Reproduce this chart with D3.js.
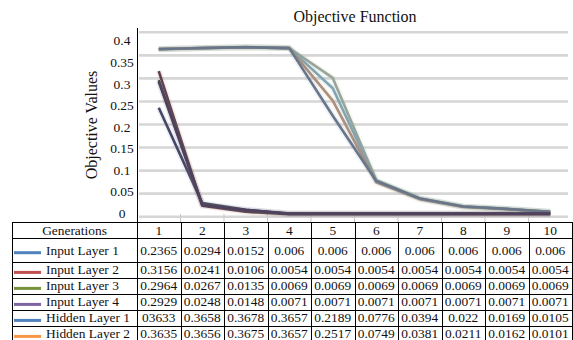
<!DOCTYPE html>
<html>
<head>
<meta charset="utf-8">
<script src="https://cdn.jsdelivr.net/npm/d3@7"></script>
<style>
  html, body { margin: 0; padding: 0; background: #fff; }
</style>
</head>
<body>
<div id="chart"></div>
<script>
// chart values
const generations = [1, 2, 3, 4, 5, 6, 7, 8, 9, 10];
const seriesNames = ["Input Layer 1", "Input Layer 2", "Input Layer 3", "Input Layer 4",
                     "Hidden Layer 1", "Hidden Layer 2"];
const seriesColors = ["#4f81bd", "#c0504d", "#77933c", "#8064a2", "#4f81bd", "#f79646"];

const inputLayer1 = [0.2365, 0.0294, 0.0152, 0.006, 0.006, 0.006, 0.006, 0.006, 0.006, 0.006];
const inputLayer2 = [0.3156, 0.0241, 0.0106, 0.0054, 0.0054, 0.0054, 0.0054, 0.0054, 0.0054, 0.0054];
const inputLayer3 = [0.2964, 0.0267, 0.0135, 0.0069, 0.0069, 0.0069, 0.0069, 0.0069, 0.0069, 0.0069];
const inputLayer4 = [0.2929, 0.0248, 0.0148, 0.0071, 0.0071, 0.0071, 0.0071, 0.0071, 0.0071, 0.0071];
const hiddenLayer1 = [0.3633, 0.3658, 0.3678, 0.3657, 0.2189, 0.0776, 0.0394, 0.022, 0.0169, 0.0105];
const hiddenLayer2 = [0.3635, 0.3656, 0.3675, 0.3657, 0.2517, 0.0749, 0.0381, 0.0211, 0.0162, 0.0101];

// two more curves whose table rows fall below the picture; estimated from the plot
const extraColors = ["#4bacc6", "#9bbb59"];
const extraCurve1 = [0.3638, 0.3657, 0.3676, 0.3657, 0.2785, 0.0768, 0.0389, 0.0216, 0.0166, 0.0103];
const extraCurve2 = [0.3640, 0.3660, 0.3677, 0.3657, 0.3010, 0.0792, 0.0401, 0.0224, 0.0171, 0.0107];

const seriesValues = [inputLayer1, inputLayer2, inputLayer3, inputLayer4, hiddenLayer1, hiddenLayer2];
// the table prints this one cell without its decimal point
const cellText = { "Hidden Layer 1|1": "03633" };

const yTicks = [0, 0.05, 0.1, 0.15, 0.2, 0.25, 0.3, 0.35, 0.4];

const W = 573, H = 340;
const tableLeft = 12, tableRight = 572, tableTop = 222;
const plotLeft = 137;
const serif = '"Liberation Serif", "Times New Roman", Times, serif';

const svg = d3.select("#chart").append("svg")
  .attr("width", W)
  .attr("height", H)
  .attr("font-family", serif)
  .style("font-family", serif);

svg.append("rect").attr("width", W).attr("height", H).attr("fill", "#fff");

const x = d3.scaleBand().domain(generations).range([plotLeft, tableRight]);
const bw = x.bandwidth();
const cx = g => x(g) + bw / 2;

const y = d3.scaleLinear().domain([0, 0.4]).range([216.7, 32.3]);
// tick labels sit a little off the grid in the original
const yLab = d3.scaleLinear().domain([0, 0.4]).range([213.3, 40.7]);

// grid
svg.append("g")
  .selectAll("line")
  .data(yTicks)
  .enter()
    .append("line")
      .attr("x1", plotLeft + 2).attr("x2", 568)
      .attr("y1", d => y(d)).attr("y2", d => y(d))
      .attr("stroke", "#d6d6d6")
      .attr("stroke-width", 2.6);

// small ticks above the table
svg.append("g")
  .selectAll("line")
  .data(generations.slice(1))
  .enter()
    .append("line")
      .attr("x1", d => x(d)).attr("x2", d => x(d))
      .attr("y1", 214).attr("y2", tableTop)
      .attr("stroke", "#c8c8c8")
      .attr("stroke-width", 1);

// y axis
svg.append("line")
  .attr("x1", plotLeft + 0.5).attr("x2", plotLeft + 0.5)
  .attr("y1", 28).attr("y2", tableTop)
  .attr("stroke", "#000");

svg.append("g")
  .selectAll("text")
  .data(yTicks)
  .enter()
    .append("text")
      .attr("x", 122)
      .attr("y", d => yLab(d))
      .attr("dy", "0.35em")
      .attr("text-anchor", "middle")
      .attr("fill", "#111")
      .style("font-size", "13.5px")
      .text(d => d3.format("")(d));

svg.append("text")
  .attr("transform", "translate(97,125) rotate(-90)")
  .attr("text-anchor", "middle")
  .attr("fill", "#111")
  .style("font-size", "16px")
  .text("Objective Values");

svg.append("text")
  .attr("x", 355).attr("y", 22)
  .attr("text-anchor", "middle")
  .attr("fill", "#111")
  .style("font-size", "16px")
  .text("Objective Function");

// lines
const line = d3.line()
  .x((d, i) => cx(generations[i]))
  .y(d => y(d));

const curves = [
  { v: extraCurve2, c: extraColors[1], t: d3.interpolateRgb(extraColors[1], "#9aa0a8")(0.85) },
  { v: extraCurve1, c: extraColors[0], t: d3.interpolateRgb(extraColors[0], "#9aa0a8")(0.7) },
  { v: hiddenLayer2, c: seriesColors[5], t: d3.interpolateRgb(seriesColors[5], "#8a8f98")(0.72) },
  { v: hiddenLayer1, c: seriesColors[4], t: d3.interpolateRgb(seriesColors[4], "#6f737c")(0.8) }
];
[0, 1, 2, 3].forEach(i => curves.push({
  v: seriesValues[i], c: seriesColors[i], t: d3.interpolateRgb(seriesColors[i], "#43394e")(0.8)
}));

const lines = svg.append("g").attr("fill", "none").attr("stroke-linejoin", "round");
curves.forEach(s => {
  lines.append("path")
    .attr("d", line(s.v))
    .attr("stroke", s.c)
    .attr("stroke-opacity", 0.1)
    .attr("stroke-width", 6);
  lines.append("path")
    .attr("d", line(s.v))
    .attr("stroke", s.t)
    .attr("stroke-width", 2.6);
});

// data table
const rowTops = [tableTop, 238];
seriesNames.forEach((n, i) => rowTops.push(rowTops[rowTops.length - 1] + (i === 0 ? 23.7 : 16)));

const tbl = svg.append("g").attr("stroke", "#000").attr("stroke-width", 1);
rowTops.forEach(t => {
  tbl.append("line")
    .attr("x1", tableLeft).attr("x2", tableRight)
    .attr("y1", Math.round(t) + 0.5).attr("y2", Math.round(t) + 0.5);
});
[tableLeft, plotLeft].concat(generations.slice(1).map(g => x(g)), [tableRight]).forEach(v => {
  tbl.append("line")
    .attr("x1", Math.round(v) + 0.5).attr("x2", Math.round(v) + 0.5)
    .attr("y1", tableTop).attr("y2", H);
});

const txt = svg.append("g").attr("fill", "#111").style("font-size", "13.4px");
txt.append("text")
  .attr("x", (tableLeft + plotLeft) / 2).attr("y", 235)
  .attr("text-anchor", "middle")
  .text("Generations");
generations.forEach(g => {
  txt.append("text")
    .attr("x", cx(g)).attr("y", 235)
    .attr("text-anchor", "middle")
    .text(g);
});

seriesNames.forEach((n, i) => {
  const top = rowTops[i + 1];
  const base = i === 0 ? top + 16.5 : top + 12.5;
  const keyY = i === 0 ? top + 14.7 : top + 10.7;
  svg.append("line")
    .attr("x1", 14).attr("x2", 41)
    .attr("y1", keyY).attr("y2", keyY)
    .attr("stroke", seriesColors[i])
    .attr("stroke-width", 3);
  txt.append("text")
    .attr("x", 46).attr("y", base)
    .text(n);
  seriesValues[i].forEach((v, j) => {
    txt.append("text")
      .attr("x", cx(generations[j])).attr("y", base)
      .attr("text-anchor", "middle")
      .text(cellText[n + "|" + generations[j]] || String(v));
  });
});
</script>
</body>
</html>
